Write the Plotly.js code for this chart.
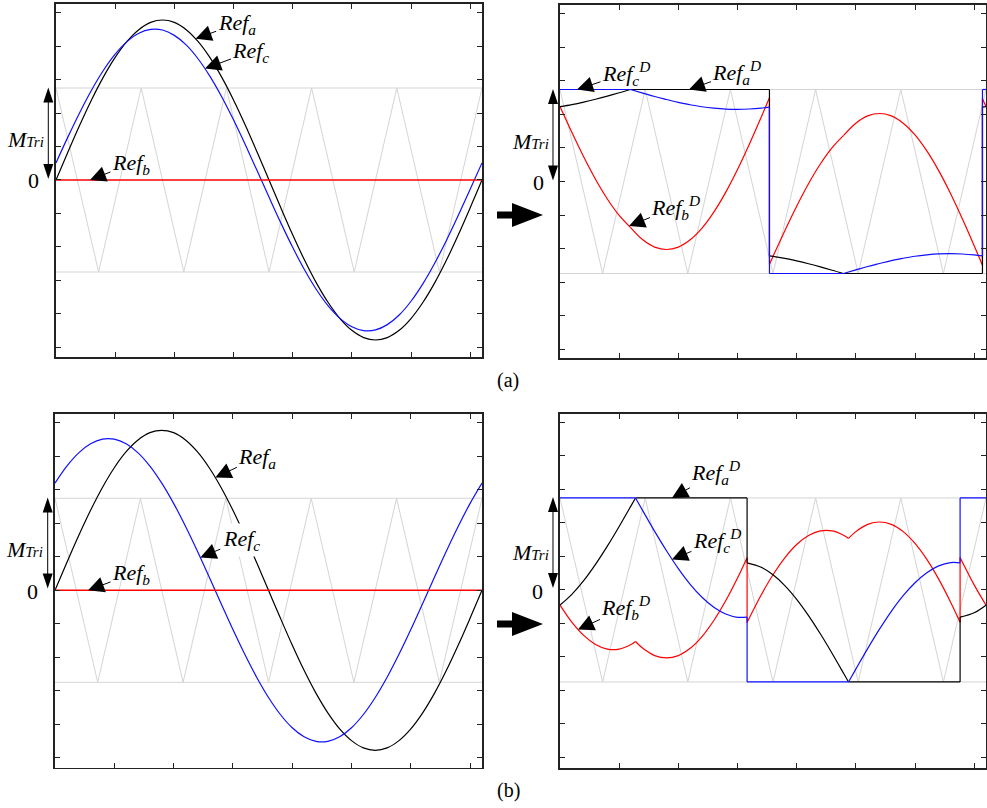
<!DOCTYPE html>
<html><head><meta charset="utf-8">
<script src="https://cdn.plot.ly/plotly-3.0.1.min.js"></script>
<style>html,body{margin:0;padding:0;background:#fff}#chart{width:987px;height:808px}</style>
</head><body><div id="chart"></div>
<script>
// ---------- angle samples (degrees) ----------
const theta = [0,10,20,30,40,50,60,70,80,90,100,110,120,130,140,150,160,170,180,190,200,210,220,230,240,250,260,270,280,290,300,310,320,330,340,350,360];

// ---------- triangular carrier (+/-1 = M_Tri) ----------
const carrierTheta = [0,36,72,108,144,180,216,252,288,324,360];
const carrierLevel = [1,-1,1,-1,1,-1,1,-1,1,-1,1];
const bandTheta = [0,360];
const bandTop = [1,1];
const bandBottom = [-1,-1];

// ---------- (a) original references ----------
const refA_a = [0,0.302,0.595,0.870,1.118,1.332,1.506,1.634,1.713,1.739,1.713,1.634,1.506,1.332,1.118,0.870,0.595,0.302,0,-0.302,-0.595,-0.870,-1.118,-1.332,-1.506,-1.634,-1.713,-1.739,-1.713,-1.634,-1.506,-1.332,-1.118,-0.870,-0.595,-0.302,0];
const refC_a = [0.186,0.466,0.732,0.976,1.190,1.368,1.504,1.595,1.637,1.630,1.572,1.468,1.318,1.129,0.905,0.654,0.383,0.100,-0.186,-0.466,-0.732,-0.976,-1.190,-1.368,-1.504,-1.595,-1.637,-1.630,-1.572,-1.468,-1.318,-1.129,-0.905,-0.654,-0.383,-0.100,0.186];
const refB_theta = [0,360];
const refB_val = [0,0];

// ---------- (a) discontinuous references (null = break) ----------
const refAD_a_x = [0,10,20,30,40,50,59.5,null,59.5,177,null,177,177,null,177,180,190,200,210,220,230,239.5,null,239.5,357,null,357,357,null,357,360];
const refAD_a_y = [0.814,0.836,0.863,0.894,0.928,0.964,1,null,1,1,null,1,-0.809,null,-0.809,-0.814,-0.836,-0.863,-0.894,-0.928,-0.964,-1,null,-1,-1,null,-1,0.809,null,0.809,0.814];
const refCD_a_x = [0,59.5,null,59.5,70,80,90,100,110,120,130,140,150,160,170,177,null,177,177,null,177,239.5,null,239.5,250,260,270,280,290,300,310,320,330,340,350,357,null,357,357,null,357,360];
const refCD_a_y = [1,1,null,1,0.961,0.924,0.891,0.859,0.834,0.812,0.797,0.787,0.784,0.788,0.798,0.809,null,0.809,-1,null,-1,-1,null,-1,-0.961,-0.924,-0.891,-0.859,-0.834,-0.812,-0.797,-0.787,-0.784,-0.788,-0.798,-0.809,null,-0.809,1,null,1,1];
const refBD_a_x = [0,10,20,30,40,50,59.5,null,59.5,70,80,90,100,110,120,130,140,150,160,170,177,null,177,177,null,177,180,190,200,210,220,230,239.5,null,239.5,250,260,270,280,290,300,310,320,330,340,350,357,null,357,357,null,357,360];
const refBD_a_y = [0.814,0.534,0.268,0.024,-0.190,-0.368,-0.498,null,-0.498,-0.634,-0.713,-0.739,-0.713,-0.634,-0.506,-0.332,-0.118,0.130,0.405,0.698,0.909,null,0.909,-0.900,null,-0.900,-0.814,-0.534,-0.268,-0.024,0.190,0.368,0.498,null,0.498,0.634,0.713,0.739,0.713,0.634,0.506,0.332,0.118,-0.130,-0.405,-0.698,-0.909,null,-0.909,0.900,null,0.900,0.814];

// ---------- (b) original references ----------
const refA_b = [0,0.302,0.595,0.870,1.118,1.332,1.506,1.634,1.713,1.739,1.713,1.634,1.506,1.332,1.118,0.870,0.595,0.302,0,-0.302,-0.595,-0.870,-1.118,-1.332,-1.506,-1.634,-1.713,-1.739,-1.713,-1.634,-1.506,-1.332,-1.118,-0.870,-0.595,-0.302,0];
const refC_b = [1.165,1.350,1.494,1.592,1.642,1.642,1.592,1.494,1.350,1.165,0.945,0.696,0.427,0.144,-0.144,-0.427,-0.696,-0.945,-1.165,-1.350,-1.494,-1.592,-1.642,-1.642,-1.592,-1.494,-1.350,-1.165,-0.945,-0.696,-0.427,-0.144,0.144,0.427,0.696,0.945,1.165];

// ---------- (b) discontinuous references ----------
const refAD_b_x = [0,10,20,30,40,50,60,63.8,null,63.8,158.1,null,158.1,158.1,null,158.1,170,180,190,200,210,220,230,240,243.8,null,243.8,338.1,null,338.1,338.1,null,338.1,350,360];
const refAD_b_y = [-0.165,-0.048,0.101,0.278,0.476,0.690,0.914,1,null,1,1,null,1,0.295,null,0.295,0.247,0.165,0.048,-0.101,-0.278,-0.476,-0.690,-0.914,-1,null,-1,-1,null,-1,-0.295,null,-0.295,-0.247,-0.165];
const refCD_b_x = [0,63.8,null,63.8,70,80,90,100,110,120,130,140,150,158.1,null,158.1,158.1,null,158.1,243.8,null,243.8,250,260,270,280,290,300,310,320,330,338.1,null,338.1,338.1,null,338.1,360];
const refCD_b_y = [1,1,null,1,0.860,0.637,0.426,0.232,0.062,-0.079,-0.188,-0.262,-0.297,-0.295,null,-0.295,-1,null,-1,-1,null,-1,-0.860,-0.637,-0.426,-0.232,-0.062,0.079,0.188,0.262,0.297,0.295,null,0.295,1,null,1,1];
const refBD_b_x = [0,10,20,30,40,50,60,63.8,null,63.8,70,80,90,100,110,120,130,140,150,158.1,null,158.1,158.1,null,158.1,170,180,190,200,210,220,230,240,243.8,null,243.8,250,260,270,280,290,300,310,320,330,338.1,null,338.1,338.1,null,338.1,350,360];
const refBD_b_y = [-0.165,-0.350,-0.494,-0.592,-0.642,-0.642,-0.592,-0.560,null,-0.560,-0.634,-0.713,-0.739,-0.713,-0.634,-0.506,-0.332,-0.118,0.130,0.351,null,0.351,-0.353,null,-0.353,-0.055,0.165,0.350,0.494,0.592,0.642,0.642,0.592,0.560,null,0.560,0.634,0.713,0.739,0.713,0.634,0.506,0.332,0.118,-0.130,-0.351,null,-0.351,0.353,null,0.353,0.055,-0.165];

// ---------- styling ----------
const FONT = 'Liberation Serif';
const GREY = '#d4d4d4', BLACK = '#000000', BLUE = '#1010ff', RED = '#ff0000';
const W = 987, H = 808;

function line(x, y, color, width, xa, ya, shape) {
  return {type:'scatter', mode:'lines', x:x, y:y, xaxis:xa, yaxis:ya, hoverinfo:'skip',
    connectgaps:false, line:{color:color, width:width, shape:shape||'linear', smoothing:1}};
}
function carrierTraces(xa, ya) {
  return [line(carrierTheta, carrierLevel, GREY, 1, xa, ya),
          line(bandTheta, bandTop, GREY, 1, xa, ya),
          line(bandTheta, bandBottom, GREY, 1, xa, ya)];
}

const traces = [].concat(
  carrierTraces('x','y'),
  [line(theta, refA_a, BLACK, 1.2, 'x','y','spline'),
   line(theta, refC_a, BLUE, 1.2, 'x','y','spline'),
   line(refB_theta, refB_val, RED, 1.5, 'x','y')],
  carrierTraces('x2','y2'),
  [line(refBD_a_x, refBD_a_y, RED, 1.2, 'x2','y2','spline'),
   line(refAD_a_x, refAD_a_y, BLACK, 1.2, 'x2','y2','spline'),
   line(refCD_a_x, refCD_a_y, BLUE, 1.2, 'x2','y2','spline')],
  carrierTraces('x3','y3'),
  [line(theta, refA_b, BLACK, 1.2, 'x3','y3','spline'),
   line(theta, refC_b, BLUE, 1.2, 'x3','y3','spline'),
   line(refB_theta, refB_val, RED, 1.5, 'x3','y3')],
  carrierTraces('x4','y4'),
  [line(refBD_b_x, refBD_b_y, RED, 1.2, 'x4','y4','spline'),
   line(refAD_b_x, refAD_b_y, BLACK, 1.2, 'x4','y4','spline'),
   line(refCD_b_x, refCD_b_y, BLUE, 1.2, 'x4','y4','spline')]
);

function xax(px0, px1, anchor) {
  return {domain:[px0/W, px1/W], anchor:anchor, range:[0,360], tickmode:'linear', tick0:0, dtick:50,
    ticks:'inside', ticklen:5, tickwidth:1, tickcolor:'#222', showticklabels:false,
    showline:true, linecolor:'#222', linewidth:1.6, mirror:'ticks', showgrid:false, zeroline:false};
}
function yax(py0, py1, lo, hi, anchor) {
  return {domain:[1-py1/H, 1-py0/H], anchor:anchor, range:[lo,hi], tickmode:'linear', tick0:0, dtick:0.3641,
    ticks:'inside', ticklen:5, tickwidth:1, tickcolor:'#222', showticklabels:false,
    showline:true, linecolor:'#222', linewidth:1.6, mirror:'ticks', showgrid:false, zeroline:false};
}

function label(xr, yr, x, y, ax, ay, text, bg) {
  const a = {xref:xr, yref:yr, x:x, y:y, ax:ax, ay:ay, text:text, showarrow:true,
    arrowhead:2, arrowsize:3.2, arrowwidth:1, arrowcolor:'#000', standoff:0,
    font:{family:FONT, size:22, color:'#000'}};
  if (bg) { a.bgcolor = '#ffffff'; a.borderpad = 2; }
  return a;
}
function ptext(px, py, text, size) {
  return {xref:'paper', yref:'paper', x:px/W, y:1-py/H, text:text, showarrow:false,
    xanchor:'center', yanchor:'middle', font:{family:FONT, size:size||20, color:'#000'}};
}
const MTRI = '<i>M<span style="font-size:15px">Tri</span></i>';

const annotations = [
  // (a) left
  label('x','y',118,1.535,41,-15,'<i>Ref<sub>a</sub></i>'),
  label('x','y',125.9,1.211,46,-17,'<i>Ref<sub>c</sub></i>'),
  label('x','y',28.7,0,41,-16,'<i>Ref<sub>b</sub></i>'),
  ptext(25.5,140,MTRI,22), ptext(33,181,'0',22),
  // (a) right
  label('x2','y2',14.4,1,49,-16,'<i>Ref<sub>c</sub><sup>D</sup></i>'),
  label('x2','y2',109,1,48,-17,'<i>Ref<sub>a</sub><sup>D</sup></i>'),
  label('x2','y2',58.3,-0.484,47,-19,'<i>Ref<sub>b</sub><sup>D</sup></i>'),
  ptext(530,142,MTRI,22), ptext(538,182.5,'0',22),
  // (b) left
  label('x3','y3',135.2,1.225,42,-20,'<i>Ref<sub>a</sub></i>'),
  label('x3','y3',122.5,0.357,41,-17,'<i>Ref<sub>c</sub></i>', true),
  label('x3','y3',27.9,0,43,-16,'<i>Ref<sub>b</sub></i>'),
  ptext(24.5,549.5,MTRI,22), ptext(32,591,'0',22),
  // (b) right
  label('x4','y4',94.6,1,44,-25,'<i>Ref<sub>a</sub><sup>D</sup></i>'),
  label('x4','y4',94.6,0.33,45,-19,'<i>Ref<sub>c</sub><sup>D</sup></i>'),
  label('x4','y4',15.2,-0.43,48,-22,'<i>Ref<sub>b</sub><sup>D</sup></i>'),
  ptext(530,552,MTRI,22), ptext(537,591,'0',22),
  // captions
  ptext(508,380,'(a)',20), ptext(508,790,'(b)',20)
];

function P(px, py) { return (px/W).toFixed(5) + ',' + (1-py/H).toFixed(5); }
function bigArrow(x0, yc) {
  const d = 'M' + P(x0, yc-3.5) + ' L' + P(x0+15, yc-3.5) + ' L' + P(x0+15, yc-12) + ' L' + P(x0+46, yc) +
            ' L' + P(x0+15, yc+12) + ' L' + P(x0+15, yc+3.5) + ' L' + P(x0, yc+3.5) + ' Z';
  return {type:'path', xref:'paper', yref:'paper', path:d, fillcolor:'#000', line:{width:0}};
}
// vertical double-headed arrow marking the carrier amplitude M_Tri
function dblArrow(px, top, bot) {
  const hl = 15, hw = 5;
  const up = 'M' + P(px, top) + ' L' + P(px+hw, top+hl) + ' L' + P(px-hw, top+hl) + ' Z';
  const dn = 'M' + P(px, bot) + ' L' + P(px+hw, bot-hl) + ' L' + P(px-hw, bot-hl) + ' Z';
  const shaft = 'M' + P(px, top+hl-1) + ' L' + P(px, bot-hl+1);
  return [
    {type:'path', xref:'paper', yref:'paper', path:shaft, line:{color:'#000', width:1}},
    {type:'path', xref:'paper', yref:'paper', path:up, fillcolor:'#000', line:{width:0}},
    {type:'path', xref:'paper', yref:'paper', path:dn, fillcolor:'#000', line:{width:0}}
  ];
}

const layout = {
  width:W, height:H, margin:{l:0,r:0,t:0,b:0}, paper_bgcolor:'#fff', plot_bgcolor:'#fff',
  showlegend:false, font:{family:FONT, color:'#000'},
  xaxis: xax(56,482,'y'),   yaxis: yax(4,357,-1.924,1.913,'x'),
  xaxis2: xax(560,986,'y2'), yaxis2: yax(5,358,-1.918,1.918,'x2'),
  xaxis3: xax(55,482,'y3'), yaxis3: yax(414,767.5,-1.926,1.916,'x3'),
  xaxis4: xax(560,986,'y4'), yaxis4: yax(413.5,768,-1.935,1.918,'x4'),
  annotations: annotations,
  shapes: [bigArrow(497,215), bigArrow(497,624)].concat(
    dblArrow(48.3,87.5,179), dblArrow(553,89,180.5), dblArrow(47.7,497.5,588.5), dblArrow(553,497,588))
};

Plotly.newPlot('chart', traces, layout, {staticPlot:true, displayModeBar:false});
</script></body></html>
